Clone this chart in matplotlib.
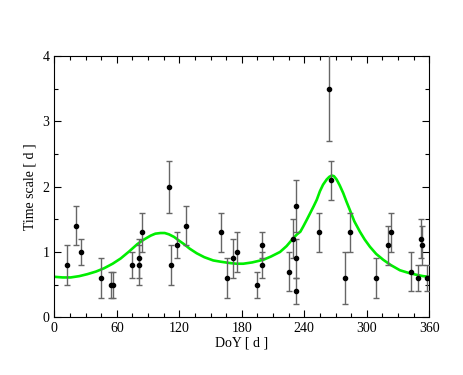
import matplotlib
matplotlib.use('Agg')
import matplotlib.pyplot as plt
from matplotlib.ticker import MultipleLocator

# Données
doy = [12, 21, 26, 44.5, 54, 56, 75, 81, 81, 84, 110, 112, 117.5, 126,
       160, 166, 172, 175, 195, 199, 199, 225, 229, 232, 232, 232,
       254, 264, 266, 279, 284, 309, 320, 323.5, 342, 349, 352, 353, 358]
tau = [0.8, 1.4, 1.0, 0.6, 0.5, 0.5, 0.8, 0.8, 0.9, 1.3, 2.0, 0.8, 1.1, 1.4,
       1.3, 0.6, 0.9, 1.0, 0.5, 1.1, 0.8, 0.7, 1.2, 1.7, 0.9, 0.4,
       1.3, 3.5, 2.1, 0.6, 1.3, 0.6, 1.1, 1.3, 0.7, 0.6, 1.2, 1.1, 0.6]
err = [0.3, 0.3, 0.2, 0.3, 0.2, 0.2, 0.2, 0.3, 0.3, 0.3, 0.4, 0.3, 0.2, 0.3,
       0.3, 0.3, 0.3, 0.3, 0.2, 0.2, 0.2, 0.3, 0.3, 0.4, 0.3, 0.2,
       0.3, 0.8, 0.3, 0.4, 0.3, 0.3, 0.3, 0.3, 0.3, 0.2, 0.3, 0.3, 0.2]

# Courbe ajustée (lue point par point)
fit_x = [0, 8, 15.7, 24, 31.7, 40, 47.7, 56, 63.7, 72, 79.7, 86, 92.5, 97,
         102, 106, 110, 115, 120, 124.5, 130, 136.7, 144, 152.6, 160, 168.7,
         175, 181.4, 190, 200.6, 208, 216.7, 223, 229.4, 233, 236.2, 239,
         242.3, 245.5, 249, 252, 255, 258, 261.5, 264, 266.3, 268.5, 271,
         274, 277.4, 280.5, 283.8, 288, 293.4, 298, 303, 309, 315.8, 323,
         331.8, 340, 347.8, 354, 360]
fit_y = [0.62, 0.61, 0.61, 0.63, 0.66, 0.70, 0.75, 0.82, 0.90, 1.01, 1.12,
         1.19, 1.25, 1.28, 1.29, 1.29, 1.27, 1.23, 1.17, 1.12, 1.05, 0.98,
         0.92, 0.87, 0.85, 0.83, 0.82, 0.82, 0.84, 0.88, 0.93, 1.00, 1.09,
         1.21, 1.27, 1.31, 1.39, 1.49, 1.59, 1.70, 1.80, 1.93, 2.03, 2.11,
         2.15, 2.17, 2.16, 2.11, 2.02, 1.90, 1.77, 1.64, 1.47, 1.31, 1.19,
         1.08, 0.97, 0.88, 0.80, 0.72, 0.68, 0.65, 0.63, 0.62]

plt.rcParams['font.family'] = ['Liberation Serif', 'DejaVu Serif']

fig = plt.figure(figsize=(4.63, 3.75), dpi=100)
ax = fig.add_axes([0.1173, 0.1539, 0.8099, 0.6968])

ax.plot(fit_x, fit_y, color='#00ee00', lw=1.9, zorder=2)
ax.errorbar(doy, tau, yerr=err, fmt='none', ecolor='#666666', elinewidth=1,
            capsize=2, capthick=1, zorder=3)
ax.plot(doy, tau, 'o', color='black', ms=3, zorder=4)

ax.set_xlim(0, 360)
ax.set_ylim(0, 4)
ax.xaxis.set_major_locator(MultipleLocator(60))
ax.xaxis.set_minor_locator(MultipleLocator(15))
ax.yaxis.set_major_locator(MultipleLocator(1))
ax.yaxis.set_minor_locator(MultipleLocator(0.5))
ax.tick_params(which='both', direction='in', top=True, right=True,
               labelsize=10, width=0.8)
ax.tick_params(which='major', length=5)
ax.tick_params(which='minor', length=3)

ax.set_xlabel('DoY [ d ]', fontsize=10, labelpad=1)
ax.set_ylabel('Time scale [ d ]', fontsize=10)

fig.savefig('out.png', dpi=100)
